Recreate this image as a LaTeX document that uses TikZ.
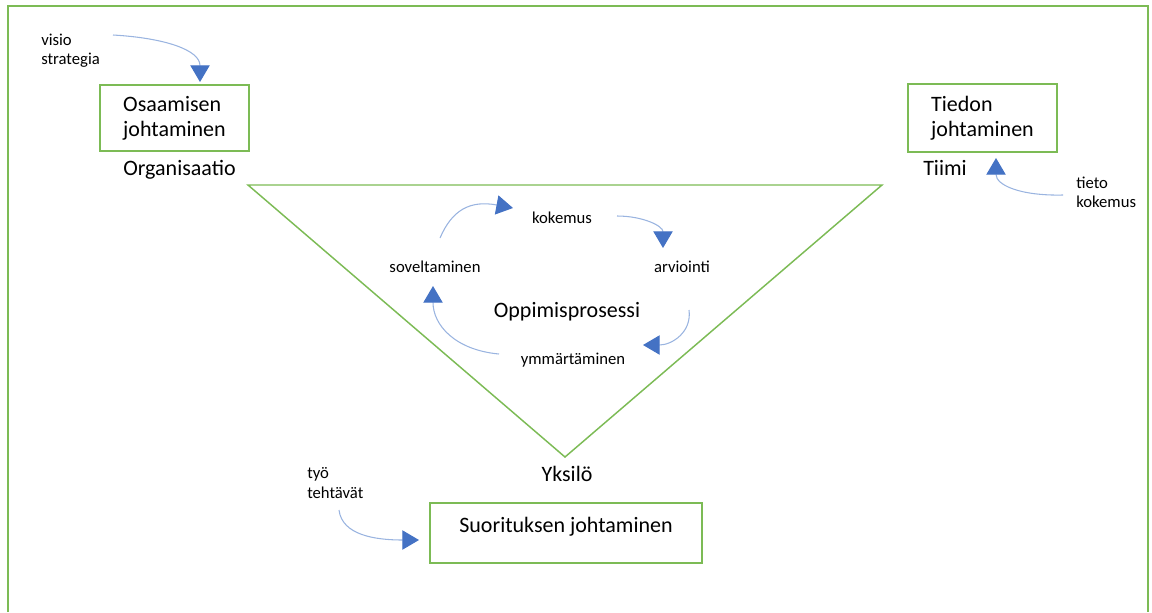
\documentclass[tikz,border=0pt]{standalone}
\usepackage{fontspec}
\setmainfont{Carlito}
\usetikzlibrary{arrows.meta}

\definecolor{greenline}{HTML}{7CBB55}
\definecolor{bluehead}{HTML}{4472C4}
\definecolor{blueline}{HTML}{9AB4E0}
\newcommand\bigtxt{\fontsize{16.5}{18.5}\selectfont}
\newcommand\smalltxt{\fontsize{12.5}{14.5}\selectfont}

\begin{document}
\begin{tikzpicture}[x=0.75pt, y=-0.75pt,
    box/.style={draw=greenline, line width=1.1pt, font=\bigtxt},
    big/.style={font=\bigtxt, inner sep=0pt},
    small/.style={font=\smalltxt, inner sep=0pt},
    flow/.style={draw=blueline, line width=0.8pt,
      -{Triangle[length=12.5pt, width=14.5pt, color=bluehead, fill=bluehead]}}]
    \useasboundingbox (0,0) rectangle (1152,612);

    % Frame
    \draw[greenline, line width=1.1pt] (8,612) -- (8,6) -- (1148,6) -- (1148,612);

    % Boxes
    \node[box, align=left, minimum width=111.75pt, minimum height=49.5pt] (osaamisen) at (174.5,118) {Osaamisen\\johtaminen};
    \node[box, align=left, minimum width=111.75pt, minimum height=51pt] (tiedon) at (982.5,118) {Tiedon\\johtaminen};
    \node[box, minimum width=204pt, minimum height=45pt, text depth=12pt] (suoritus) at (566,533) {Suorituksen johtaminen};

    % Triangle
    \draw[greenline, line width=1.1pt] (248,185) -- (882,185) -- (565,457) -- cycle;

    % Labels
    \node[big, anchor=base west] (organisaatio) at (123,175) {Organisaatio};
    \node[big, anchor=base west] (tiimi) at (923,175) {Tiimi};
    \node[big, anchor=base] (yksilo) at (567,481) {Yksilö};
    \node[small, anchor=west, align=left] (visio) at (41,51) {visio\\strategia};
    \node[small, anchor=west, align=left] (tieto) at (1076,192) {tieto\\kokemus};
    \node[small, anchor=west, align=left] (tyo) at (307,483) {työ\\tehtävät};

    % Cycle
    \node[big, anchor=base] (oppimis) at (567,317) {Oppimisprosessi};
    \node[small, anchor=base] (kokemus) at (562,223) {kokemus};
    \node[small, anchor=base] (arviointi) at (682,272) {arviointi};
    \node[small, anchor=base] (ymmarrys) at (573,364) {ymmärtäminen};
    \node[small, anchor=base] (soveltaminen) at (435,272) {soveltaminen};

    % Arrow ends
    \coordinate (visio-a) at (113,35);
    \coordinate (visio-b) at (200,82);
    \coordinate (tieto-a) at (1063,195);
    \coordinate (tieto-b) at (996,158);
    \coordinate (tyo-a) at (339,510);
    \coordinate (tyo-b) at (419,540);
    \coordinate (sov-a) at (440,238);
    \coordinate (kok-b) at (513,208);
    \coordinate (kok-a) at (617,216);
    \coordinate (arv-b) at (663,248);
    \coordinate (arv-a) at (689,310);
    \coordinate (ymm-b) at (643,345);
    \coordinate (ymm-a) at (499,354);
    \coordinate (sov-b) at (433,286);

    % Edges
    \draw[flow] (visio-a) .. controls +(52,3) and +(0,-32) .. (visio-b);
    \draw[flow] (tieto-a) .. controls +(-43,1) and +(0,27) .. (tieto-b);
    \draw[flow] (tyo-a) .. controls +(3,25) and +(-44,0) .. (tyo-b);
    \draw[flow] (sov-a) .. controls +(12,-28) and +(-43,-8) .. (kok-b);
    \draw[flow] (kok-a) .. controls +(26,0) and +(0,-22) .. (arv-b);
    \draw[flow] (arv-a) .. controls +(3,22) and +(29,0) .. (ymm-b);
    \draw[flow] (ymm-a) .. controls +(-44,-4) and +(0,39) .. (sov-b);
\end{tikzpicture}
\end{document}
